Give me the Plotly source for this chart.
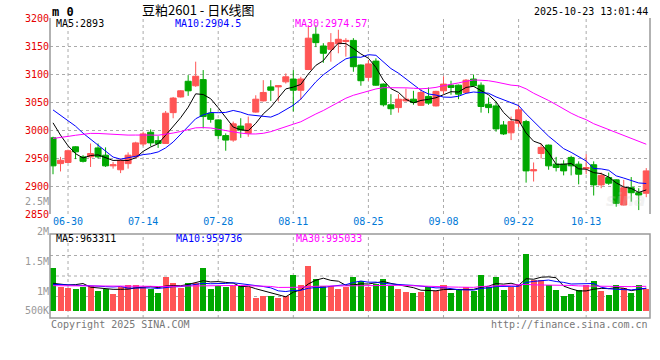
import plotly.graph_objects as go
import pandas as pd

# ---------------- data ----------------
dates = ["06-26", "06-27", "06-30", "07-01", "07-02", "07-03", "07-04", "07-07", "07-08", "07-09",
         "07-10", "07-11", "07-14", "07-15", "07-16", "07-17", "07-18", "07-21", "07-22", "07-23",
         "07-24", "07-25", "07-28", "07-29", "07-30", "07-31", "08-01", "08-04", "08-05", "08-06",
         "08-07", "08-08", "08-11", "08-12", "08-13", "08-14", "08-15", "08-18", "08-19", "08-20",
         "08-21", "08-22", "08-25", "08-26", "08-27", "08-28", "08-29", "09-01", "09-02", "09-03",
         "09-04", "09-05", "09-08", "09-09", "09-10", "09-11", "09-12", "09-15", "09-16", "09-17",
         "09-18", "09-19", "09-22", "09-23", "09-24", "09-25", "09-26", "09-29", "09-30", "10-09",
         "10-10", "10-13", "10-14", "10-15", "10-16", "10-17", "10-20", "10-21", "10-22", "10-23"]

opens = [2986, 2940, 2942, 2970, 2952, 2952, 2968, 2955, 2936, 2929,
         2940, 2952, 2975, 2996, 2981, 2976, 3031, 3059, 3087, 3079,
         3090, 3030, 3018, 2990, 2982, 3007, 2994, 3032, 3052, 3077,
         3077, 3086, 3091, 3071, 3108, 3171, 3150, 3144, 3154, 3158,
         3160, 3116, 3094, 3123, 3082, 3045, 3040, 3052, 3055, 3044,
         3060, 3043, 3070, 3080, 3080, 3067, 3091, 3080, 3046, 3043,
         3009, 2995, 3012, 3015, 2927, 2958, 2973, 2939, 2939, 2951,
         2939, 2931, 2938, 2902, 2915, 2911, 2866, 2897, 2888, 2887]
highs = [2988, 2952, 2965, 2971, 2955, 2976, 2976, 2969, 2943, 2949,
         2960, 2979, 2997, 3001, 2989, 3034, 3059, 3071, 3098, 3122,
         3107, 3039, 3019, 2994, 3015, 3021, 3024, 3062, 3089, 3089,
         3080, 3101, 3107, 3095, 3187, 3187, 3155, 3173, 3179, 3164,
         3164, 3117, 3125, 3128, 3083, 3064, 3064, 3074, 3070, 3073,
         3076, 3070, 3096, 3088, 3081, 3091, 3099, 3085, 3058, 3051,
         3016, 3024, 3045, 3018, 2942, 2976, 2974, 2952, 2946, 2954,
         2944, 2957, 2944, 2924, 2924, 2912, 2911, 2916, 2896, 2932]
lows = [2921, 2926, 2941, 2948, 2942, 2934, 2949, 2934, 2931, 2923,
        2931, 2951, 2971, 2971, 2968, 2975, 3021, 3058, 3061, 3077,
        3003, 3013, 2984, 2963, 2979, 2986, 2988, 3031, 3051, 3052,
        3051, 3083, 3033, 3054, 3107, 3148, 3120, 3122, 3137, 3131,
        3104, 3079, 3088, 3079, 3042, 3027, 3031, 3051, 3045, 3043,
        3045, 3042, 3064, 3063, 3055, 3066, 3077, 3031, 3030, 2997,
        2991, 2982, 3005, 2906, 2908, 2949, 2929, 2926, 2919, 2919,
        2903, 2921, 2883, 2896, 2902, 2863, 2865, 2872, 2857, 2880]
closes = [2936, 2946, 2963, 2961, 2944, 2958, 2952, 2936, 2938, 2946,
          2955, 2977, 2993, 2977, 2976, 3030, 3057, 3070, 3070, 3096,
          3024, 3019, 2990, 2982, 3011, 3000, 3011, 3055, 3067, 3071,
          3079, 3095, 3071, 3091, 3164, 3156, 3137, 3156, 3162, 3160,
          3113, 3088, 3118, 3080, 3045, 3038, 3055, 3055, 3049, 3067,
          3048, 3069, 3082, 3076, 3064, 3089, 3079, 3042, 3040, 3002,
          2993, 3015, 3036, 2927, 2929, 2969, 2936, 2933, 2927, 2936,
          2921, 2933, 2902, 2919, 2905, 2869, 2897, 2888, 2884, 2927]
volumes = [1305000, 989000, 972000, 950000, 989000, 1000000, 917000, 950000, 867000, 989000,
           1017000, 1017000, 989000, 950000, 889000, 1156000, 1056000, 972000, 1056000, 1056000,
           1305000, 950000, 1000000, 989000, 1000000, 1000000, 989000, 794000, 833000, 833000,
           806000, 833000, 1183000, 1017000, 1333000, 1117000, 1000000, 1000000, 950000, 989000,
           1156000, 1083000, 989000, 1028000, 1117000, 1000000, 950000, 906000, 889000, 906000,
           983420, 914440, 1012380, 886820, 926710, 981870, 909320, 1182430, 984150, 1142530,
           938520, 982440, 1010840, 1534290, 1096510, 1107760, 1011050, 937960, 840790, 869400,
           929268, 1012932, 1078668, 913332, 846605, 1008742, 964107, 881781, 1008742, 953183]

# closes / volumes before the window, estimated from where the MA lines start
prior_closes_est = [2905, 2895, 2900, 2898, 2904, 2955, 2968, 2960, 2970, 2965,
                    2975, 2980, 2990, 2985, 2978, 2992, 2988, 2980, 2988, 3013,
                    3040, 3055, 3065, 3070, 3065, 3056, 3058, 3031, 2983]
prior_volumes_est = [985000, 1010000, 972000, 1003000, 990000, 1015000, 968000, 997000, 1008000, 981000,
                     994000, 1002000, 976000, 1012000, 989000, 999000, 983000, 1006000, 991000, 989000,
                     1020000, 998000, 1031000, 1004000, 1002000, 1060000, 1040000, 920000, 900000]

tick_labels = ["06-30", "07-14", "07-28", "08-11", "08-25", "09-08", "09-22", "10-13"]
price_ticks = [2850, 2900, 2950, 3000, 3050, 3100, 3150, 3200]
vol_tick_vals = [2500000, 2000000, 1500000, 1000000]
vol_tick_text = ["2.5M", "2M", "1.5M", "1M"]
vol_low_tick_val = [500000]
vol_low_tick_text = ["500K"]
ma_windows = [5, 10, 30]

# ---------------- styling ----------------
W, H = 660, 360
L, R = 50, 650
RED, GREEN = "#ff5555", "#00a800"
MA_COLORS = {5: "#000000", 10: "#0000ff", 30: "#ff00ff"}
GRID = "#aaaaaa"
BORDER = "#999999"
MONO = "DejaVu Sans Mono"
VOL_RANGE = [466667, 2600000]


def px(x):
    return (x - L) / (R - L)


def py(y):
    return 1 - y / H


def fmt(v):
    return f"{v:.2f}".rstrip("0").rstrip(".")


n = len(dates)
idx = list(range(n))
n_prior = len(prior_closes_est)
cser = pd.Series(prior_closes_est + closes, dtype=float)
vser = pd.Series(prior_volumes_est + volumes, dtype=float)
ma = {w: cser.rolling(w).mean().iloc[n_prior:].tolist() for w in ma_windows}
vma = {w: vser.rolling(w).mean().iloc[n_prior:].tolist() for w in ma_windows}

vol_base = 583333  # bars start at the bottom of the volume panel
bar_colors = [RED if c >= o else GREEN for o, c in zip(opens, closes)]

fig = go.Figure()

# volume bars + MAs
fig.add_trace(go.Bar(
    x=idx, y=[v - vol_base for v in volumes], base=vol_base,
    marker=dict(color=bar_colors, line=dict(width=0)), width=0.8,
    xaxis="x2", yaxis="y2", hoverinfo="skip"))
for w in ma_windows:
    fig.add_trace(go.Scatter(x=idx, y=vma[w], mode="lines", xaxis="x2", yaxis="y3",
                             line=dict(color=MA_COLORS[w], width=1), hoverinfo="skip"))

# candles + MAs
fig.add_trace(go.Candlestick(
    x=idx, open=opens, high=highs, low=lows, close=closes,
    increasing=dict(line=dict(color=RED, width=1), fillcolor=RED),
    decreasing=dict(line=dict(color=GREEN, width=1), fillcolor=GREEN),
    whiskerwidth=0, xaxis="x", yaxis="y", hoverinfo="skip"))
for w in ma_windows:
    fig.add_trace(go.Scatter(x=idx, y=ma[w], mode="lines", xaxis="x", yaxis="y",
                             line=dict(color=MA_COLORS[w], width=1), hoverinfo="skip"))

tickvals = [dates.index(t) for t in tick_labels]

shapes = []
# vertical grid lines
for tv in tickvals:
    shapes.append(dict(type="line", xref="x", yref="paper", x0=tv, x1=tv, y0=py(214), y1=py(18),
                       line=dict(color=GRID, width=1, dash="dot"), layer="below"))
    shapes.append(dict(type="line", xref="x", yref="paper", x0=tv, x1=tv, y0=py(318), y1=py(234),
                       line=dict(color=GRID, width=1, dash="dot"), layer="below"))
# volume panel horizontal grid
for gy in (255.5, 276, 296.5):
    shapes.append(dict(type="line", xref="paper", yref="paper", x0=0, x1=1, y0=py(gy), y1=py(gy),
                       line=dict(color=GRID, width=1, dash="dot"), layer="below"))
# panel borders
shapes.append(dict(type="line", xref="paper", yref="paper", x0=0, x1=0, y0=py(214), y1=py(18),
                   line=dict(color=BORDER, width=1.5)))
shapes.append(dict(type="line", xref="paper", yref="paper", x0=1, x1=1, y0=py(214), y1=py(18),
                   line=dict(color=BORDER, width=1.5)))
shapes.append(dict(type="rect", xref="paper", yref="paper", x0=0, x1=1, y0=py(318), y1=py(234),
                   line=dict(color=BORDER, width=1.5)))

annotations = []


def note(text, x, y, color="#000000", size=10, anchor="left", family=MONO, bold=False):
    t = f"<b>{text}</b>" if bold else text
    annotations.append(dict(text=t, x=px(x), y=py(y), xref="paper", yref="paper",
                            xanchor=anchor, yanchor="middle", showarrow=False,
                            font=dict(family=family, size=size, color=color)))


note("m 0", 50, 11.5, size=12, bold=True)
note("豆粕2601 - 日K线图", 140, 9.5, size=13, family="Noto Sans CJK SC, DejaVu Sans")
note("2025-10-23 13:01:44", 650, 11.5, anchor="right")
note(f"MA5:{fmt(ma[5][-1])}", 54, 24, color=MA_COLORS[5])
note(f"MA10:{fmt(ma[10][-1])}", 173, 24, color=MA_COLORS[10])
note(f"MA30:{fmt(ma[30][-1])}", 293, 24, color=MA_COLORS[30])
note(f"MA5:{round(vma[5][-1])}", 54, 238.5, color=MA_COLORS[5])
note(f"MA10:{round(vma[10][-1])}", 174, 238.5, color=MA_COLORS[10])
note(f"MA30:{round(vma[30][-1])}", 294, 238.5, color=MA_COLORS[30])
note("Copyright 2025 SINA.COM", 49, 324, color="#777777")
note("http://finance.sina.com.cn", 650, 324, color="#777777", anchor="right")
annotations.append(dict(text="<i><b>sina</b></i>", x=px(648), y=py(200), xref="paper", yref="paper",
                        xanchor="right", yanchor="middle", showarrow=False, opacity=0.25,
                        font=dict(family="DejaVu Sans", size=17, color="#c8c8c8")))

xcommon = dict(range=[-0.4, 79.5], showgrid=False, zeroline=False, showline=False, ticks="",
               fixedrange=True, automargin=False)
vcommon = dict(domain=[py(318), py(190)], range=VOL_RANGE, anchor="x2",
               showgrid=False, zeroline=False, showline=False, ticks="", automargin=False,
               fixedrange=True, tickfont=dict(family=MONO, size=10, color="#999999"))

fig.update_layout(
    width=W, height=H,
    margin=dict(l=L, r=W - R, t=0, b=0, pad=0, autoexpand=False),
    paper_bgcolor="white", plot_bgcolor="rgba(0,0,0,0)",
    showlegend=False, hovermode=False, bargap=0,
    boxgap=0.2, boxgroupgap=0,
    shapes=shapes, annotations=annotations,
    xaxis=dict(**xcommon, anchor="y", side="bottom", showticklabels=True,
               tickmode="array", tickvals=tickvals, ticktext=tick_labels,
               tickfont=dict(family=MONO, size=10, color="#0078d7"),
               rangeslider=dict(visible=False)),
    xaxis2=dict(**xcommon, anchor="y2", matches="x", showticklabels=False),
    yaxis=dict(domain=[py(214), py(18)], range=[2850, 3200], anchor="x", tickvals=price_ticks,
               showgrid=True, gridcolor=GRID, griddash="dot", gridwidth=1,
               zeroline=False, showline=False, ticks="", automargin=False, fixedrange=True,
               tickfont=dict(family=MONO, size=10, color="#e60000")),
    # volume axis: labels sit just below their value line
    yaxis2=dict(**vcommon, tickvals=vol_tick_vals, ticktext=vol_tick_text, ticklabelshift=5),
    # the lowest label is kept inside the panel, just above its value
    yaxis3=dict(**vcommon, overlaying="y2", side="left",
                tickvals=vol_low_tick_val, ticktext=vol_low_tick_text, ticklabelshift=-6),
)

fig.write_html("out.html", config={"displayModeBar": False},
               post_script="document.body.style.margin='0';document.body.style.overflow='hidden';")
